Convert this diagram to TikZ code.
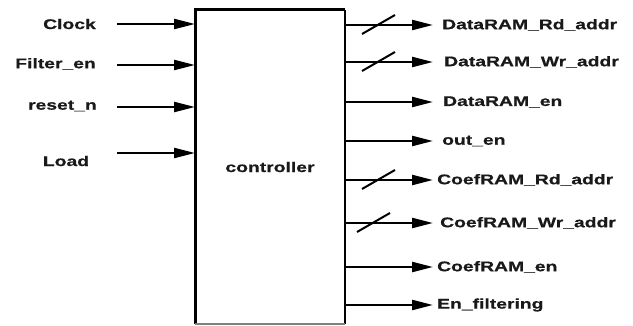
\documentclass[tikz,border=0pt]{standalone}
\usepackage{fontspec}
\setmainfont{Liberation Sans}
\newfontfamily\labfont[FakeStretch=1.38,FakeBold=0.6]{Liberation Sans Bold}
\usetikzlibrary{arrows.meta}
\begin{document}
\begin{tikzpicture}[x=1pt,y=-1pt,
  lab/.style={font=\labfont\fontsize{14}{15}\selectfont, inner sep=0pt, text=black!90},
  sig/.style={line width=2.3pt, -{Triangle[length=21pt,width=10pt]}},
  bus/.style={line width=2pt}]
\useasboundingbox (0,0) rectangle (633,326);
\draw[line width=3pt] (345,10) -- (195,10) -- (195,324);
\draw[line width=2.5pt] (345,10) -- (345,324);
\draw[line width=1.2pt, gray] (195,324) -- (345,324);
\node[lab] (ctrl) at (270,167) {controller};
% inputs
\node[lab, anchor=east] (clk) at (96,24) {Clock};
\node[lab, anchor=east] (fen) at (96,64) {Filter\_en};
\node[lab, anchor=east] (rst) at (97,106) {reset\_n};
\node[lab] (load) at (66,161) {Load};
\coordinate (i1s) at (117,24); \coordinate (i1e) at (195,24);
\coordinate (i2s) at (117,65); \coordinate (i2e) at (195,65);
\coordinate (i3s) at (117,107); \coordinate (i3e) at (195,107);
\coordinate (i4s) at (117,153); \coordinate (i4e) at (195,153);
\draw[sig] (i1s) -- (i1e);
\draw[sig] (i2s) -- (i2e);
\draw[sig] (i3s) -- (i3e);
\draw[sig] (i4s) -- (i4e);
% outputs
\foreach \y/\tx/\lx/\nm in {25/DataRAM\_Rd\_addr/442/o1, 62/DataRAM\_Wr\_addr/444/o2, 102/DataRAM\_en/443/o3, 141/out\_en/442/o4, 180/CoefRAM\_Rd\_addr/437/o5, 223/CoefRAM\_Wr\_addr/440/o6, 267/CoefRAM\_en/437/o7, 305/En\_filtering/437/o8}{
  \coordinate (\nm s) at (345,\y);
  \coordinate (\nm e) at (433,\y);
  \node[lab, anchor=west] (\nm) at (\lx,\y) {\tx};
  \draw[sig] (\nm s) -- (\nm e);
}
\draw[bus] (362,34) -- (395,15);
\draw[bus] (362,71) -- (395,52);
\draw[bus] (362,189) -- (395,170);
\draw[bus] (357,232) -- (390,213);
\end{tikzpicture}
\end{document}
